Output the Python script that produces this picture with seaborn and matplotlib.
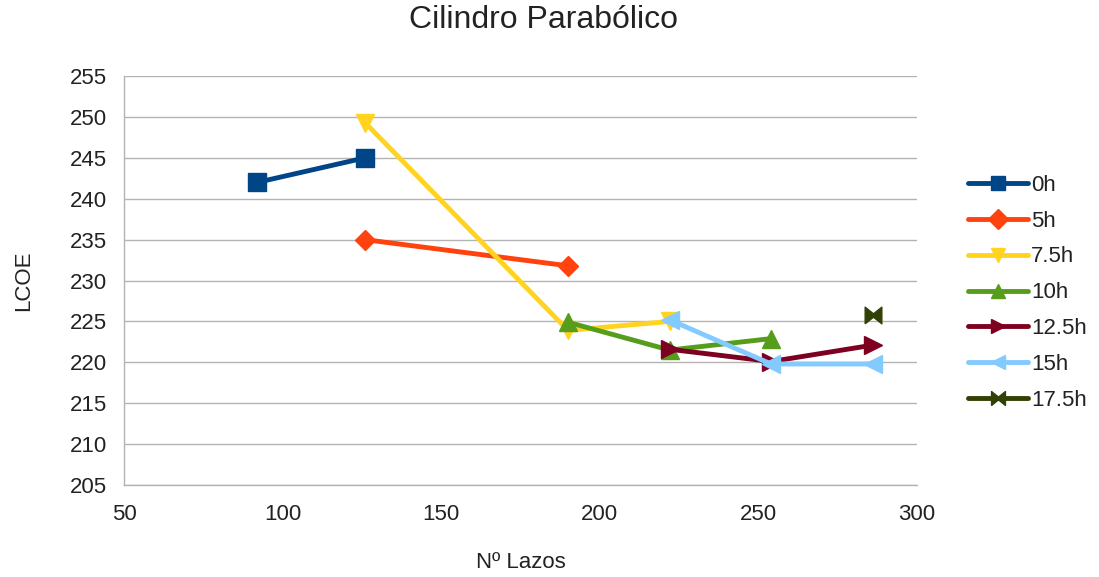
import matplotlib
matplotlib.use("Agg")
import matplotlib.pyplot as plt
from matplotlib.lines import Line2D
import seaborn as sns
import pandas as pd

series_names = ["0h", "5h", "7.5h", "10h", "12.5h", "15h", "17.5h"]
x_0h = [92, 126]
y_0h = [242.0, 245.0]
x_5h = [126, 190]
y_5h = [235.0, 231.8]
x_7h = [126, 190, 222]
y_7h = [249.3, 223.9, 225.0]
x_10h = [190, 222, 254]
y_10h = [224.9, 221.5, 222.9]
x_12h = [222, 254, 286]
y_12h = [221.6, 220.1, 222.1]
x_15h = [222, 254, 286]
y_15h = [225.2, 219.8, 219.8]
x_17h = [286]
y_17h = [225.8]

colors = ["#004586", "#ff420e", "#ffd320", "#579d1c", "#7e0021", "#83caff", "#314004"]
bowtie = [(-1, -1), (0, -0.2), (1, -1), (1, 1), (0, 0.2), (-1, 1), (-1, -1)]
marker_list = ["s", "D", "v", "^", ">", "<", bowtie]
msizes = [13, 10, 13, 13, 13, 13, 12]

xs = [x_0h, x_5h, x_7h, x_10h, x_12h, x_15h, x_17h]
ys = [y_0h, y_5h, y_7h, y_10h, y_12h, y_15h, y_17h]
rows = []
for name, xv, yv in zip(series_names, xs, ys):
    for a, b in zip(xv, yv):
        rows.append({"Nº Lazos": a, "LCOE": b, "serie": name})
df = pd.DataFrame(rows)

sns.set_theme(style="white")
plt.rcParams["font.family"] = ["Liberation Sans", "DejaVu Sans"]

text_color = "#222222"

fig = plt.figure(figsize=(10.99, 5.77), dpi=100)
ax = fig.add_axes([0.1128, 0.1594, 0.7216, 0.7088])

sns.lineplot(data=df, x="Nº Lazos", y="LCOE", hue="serie", style="serie",
             hue_order=series_names, style_order=series_names,
             palette=dict(zip(series_names, colors)),
             markers=dict(zip(series_names, marker_list)),
             dashes=False, sort=False, estimator=None,
             linewidth=3.5, markersize=12, legend=False, ax=ax)

for line, c, ms in zip(ax.lines, colors, msizes):
    line.set_markeredgecolor(c)
    line.set_markerfacecolor(c)
    line.set_markeredgewidth(1)
    line.set_markersize(ms)

ax.set_xlim(50, 300)
ax.set_ylim(205, 255)
ax.set_xticks(range(50, 301, 50))
ax.set_yticks(range(205, 256, 5))
ax.yaxis.grid(True, color="#b3b3b3", linewidth=1)
ax.xaxis.grid(False)
ax.set_axisbelow(True)
for s in ["top", "right"]:
    ax.spines[s].set_visible(False)
for s in ["left", "bottom"]:
    ax.spines[s].set_color("#b3b3b3")
    ax.spines[s].set_linewidth(1)
ax.tick_params(axis="both", labelsize=16, colors=text_color, length=8, color="#b3b3b3", direction="out")
ax.tick_params(axis="y", pad=4)
ax.tick_params(axis="x", pad=6)
ax.set_xlabel("Nº Lazos", fontsize=16, color=text_color, labelpad=19)
ax.set_ylabel("LCOE", fontsize=16, color=text_color, labelpad=26)
fig.text(0.4945, 1 - 20 / 577, "Cilindro Parabólico", fontsize=23, color=text_color,
         ha="center", va="center")

handles = [Line2D([], [], color=c, marker=m, markersize=10, linewidth=3.5,
                  markeredgecolor=c, markerfacecolor=c)
           for c, m in zip(colors, marker_list)]
leg = ax.legend(handles, series_names, loc="center left", bbox_to_anchor=(1.053, 0.47),
                frameon=False, fontsize=16, handlelength=2.7, labelspacing=0.67,
                handletextpad=0.15, borderaxespad=0)
for t in leg.get_texts():
    t.set_color(text_color)

fig.savefig("out.png", dpi=100)
